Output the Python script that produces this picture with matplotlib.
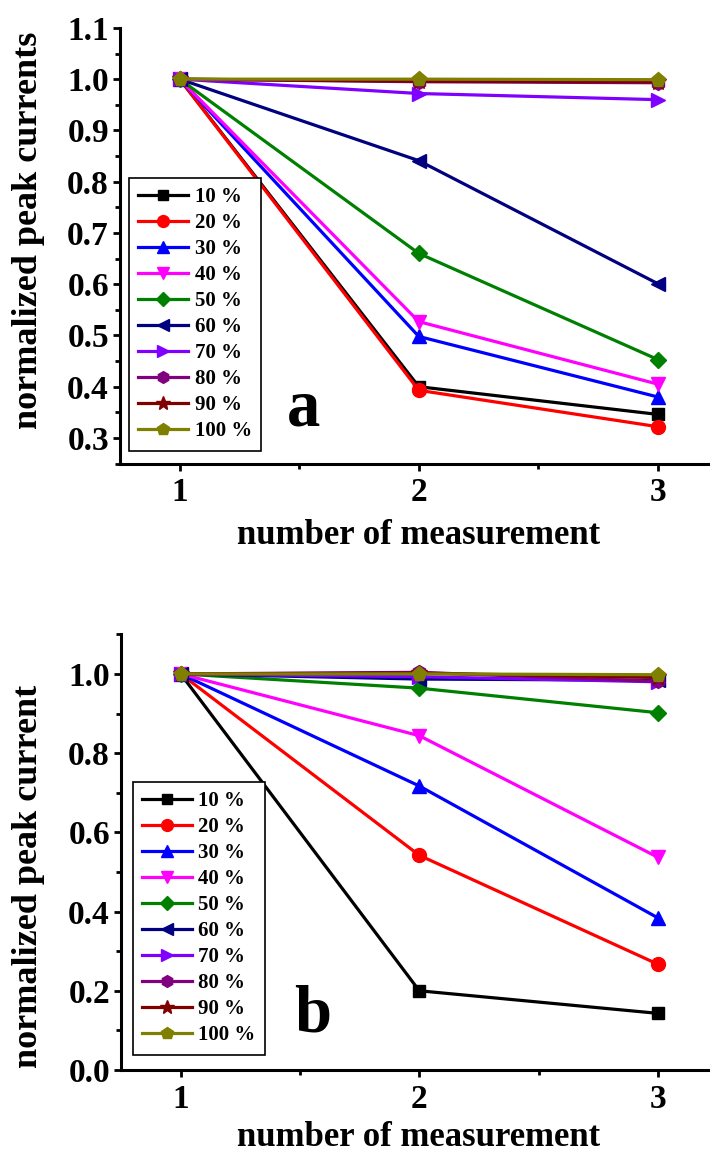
import matplotlib
matplotlib.use("Agg")
import matplotlib.pyplot as plt
from matplotlib.ticker import MultipleLocator

plt.rcParams['font.family'] = ['Liberation Serif', 'DejaVu Serif']
plt.rcParams['font.weight'] = 'bold'

x = [1, 2, 3]
labels = ['10 %', '20 %', '30 %', '40 %', '50 %', '60 %', '70 %', '80 %', '90 %', '100 %']
colors = ['#000000', '#FF0000', '#0000FF', '#FF00FF', '#008000', '#000080',
          '#8000FF', '#800080', '#800000', '#808000']
markers = ['s', 'o', '^', 'v', 'D', '<', '>', 'h', '*', 'p']

# panel a
a_10 = [1.0, 0.400, 0.346]
a_20 = [1.0, 0.393, 0.322]
a_30 = [1.0, 0.498, 0.380]
a_40 = [1.0, 0.527, 0.405]
a_50 = [1.0, 0.660, 0.453]
a_60 = [1.0, 0.841, 0.601]
a_70 = [1.0, 0.972, 0.960]
a_80 = [1.0, 0.995, 0.993]
a_90 = [1.0, 0.996, 0.995]
a_100 = [1.0, 1.000, 0.999]

# panel b
b_10 = [1.0, 0.200, 0.143]
b_20 = [1.0, 0.542, 0.267]
b_30 = [1.0, 0.717, 0.384]
b_40 = [1.0, 0.844, 0.537]
b_50 = [1.0, 0.964, 0.902]
b_60 = [1.0, 0.987, 0.984]
b_70 = [1.0, 0.993, 0.980]
b_80 = [1.0, 1.004, 0.981]
b_90 = [1.0, 1.002, 0.991]
b_100 = [1.0, 1.000, 0.998]

series_a = [a_10, a_20, a_30, a_40, a_50, a_60, a_70, a_80, a_90, a_100]
series_b = [b_10, b_20, b_30, b_40, b_50, b_60, b_70, b_80, b_90, b_100]

W, H = 710, 1155
fig = plt.figure(figsize=(W / 100, H / 100), dpi=100)

def fx(px):
    return px / W

def fy(py):
    return 1 - py / H

ax_a = fig.add_axes([fx(120), fy(463.6), fx(717.6) - fx(120), fy(27.9) - fy(463.6)])
ax_b = fig.add_axes([fx(121), fy(1070), fx(717.6) - fx(121), fy(634.3) - fy(1070)])

msizes = {'s': 9, 'o': 10, '^': 10, 'v': 10, 'D': 8, '<': 10, '>': 10, 'h': 10, '*': 12, 'p': 11}

for ax, series in [(ax_a, series_a), (ax_b, series_b)]:
    for s, lab, c, m in zip(series, labels, colors, markers):
        ax.plot(x, s, color=c, marker=m, markersize=msizes[m], lw=2.3,
                label=lab, markeredgecolor=c, clip_on=False)
    ax.set_xlim(0.75, 3.25)
    for sp in ['top', 'right']:
        ax.spines[sp].set_visible(False)
    for sp in ['left', 'bottom']:
        ax.spines[sp].set_linewidth(2.2)
    ax.xaxis.set_minor_locator(MultipleLocator(0.5))
    ax.tick_params(which='major', direction='out', length=5, width=2, labelsize=24, pad=3)
    ax.tick_params(which='minor', direction='out', length=3.5, width=2)
    ax.tick_params(axis='x', which='major', pad=5)

ax_a.set_ylim(0.25, 1.1)
ax_a.yaxis.set_minor_locator(MultipleLocator(0.05))
ax_a.set_yticks([0.3, 0.4, 0.5, 0.6, 0.7, 0.8, 0.9, 1.0, 1.1])
ax_a.set_yticklabels(['0.3', '0.4', '0.5', '0.6', '0.7', '0.8', '0.9', '1.0', '1.1'])

ax_b.set_ylim(0.0, 1.1)
ax_b.yaxis.set_minor_locator(MultipleLocator(0.1))
ax_b.set_yticks([0.0, 0.2, 0.4, 0.6, 0.8, 1.0])
ax_b.set_yticklabels(['0.0', '0.2', '0.4', '0.6', '0.8', '1.0'])

for ax in (ax_a, ax_b):
    ax.set_xticks([1, 2, 3])
    ax.set_xticklabels(['1', '2', '3'])
    for t in ax.get_xticklabels() + ax.get_yticklabels():
        t.set_fontweight('bold')
        t.set_fontsize(24)

# axis labels
fig.text(fx(419), fy(535.7), 'number of measurement', ha='center', va='center',
         fontsize=25, fontweight='bold')
fig.text(fx(29), fy(230), 'normalized peak currents', ha='center', va='center',
         rotation=90, fontsize=26, fontweight='bold')
fig.text(fx(419), fy(1138), 'number of measurement', ha='center', va='center',
         fontsize=25, fontweight='bold')
fig.text(fx(29), fy(876), 'normalized peak current', ha='center', va='center',
         rotation=90, fontsize=26, fontweight='bold')

# panel letters
fig.text(fx(304), fy(425), 'a', ha='center', va='baseline', fontsize=48, fontweight='bold')
fig.text(fx(313), fy(1031), 'b', ha='center', va='baseline', fontsize=48, fontweight='bold')

for ax, (lx, ly) in [(ax_a, (129, 177.5)), (ax_b, (132.7, 781.7))]:
    leg = ax.legend(loc='upper left', bbox_to_anchor=(fx(lx), fy(ly)),
                    bbox_transform=fig.transFigure, frameon=True,
                    fancybox=False, edgecolor='black', framealpha=1,
                    handlelength=2.4, handletextpad=0.3, labelspacing=0.29,
                    borderpad=0.45, borderaxespad=0, markerscale=0.85,
                    prop={'weight': 'bold', 'size': 15})
    leg.get_frame().set_linewidth(1.2)

fig.savefig('out.png', dpi=100)
